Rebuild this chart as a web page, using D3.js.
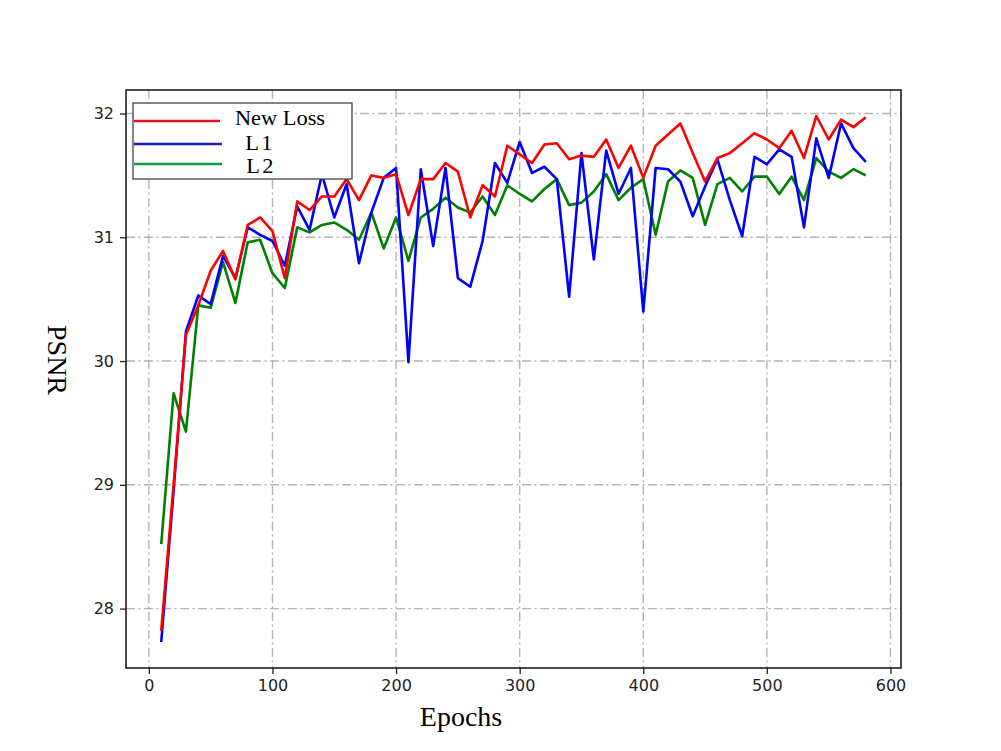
<!DOCTYPE html>
<html>
<head>
<meta charset="utf-8">
<script src="https://cdn.jsdelivr.net/npm/d3@7"></script>
<style>
  html, body { margin: 0; padding: 0; background: #ffffff; }
  svg { display: block; }
</style>
</head>
<body>
<div id="chart"></div>
<script>
// ---------- data ----------
const epochs = [10,20,30,40,50,60,70,80,90,100,110,120,130,140,150,160,170,180,190,200,
  210,220,230,240,250,260,270,280,290,300,310,320,330,340,350,360,370,380,390,400,
  410,420,430,440,450,460,470,480,490,500,510,520,530,540,550,560,570,580];

const newLoss = [27.82,29.00,30.21,30.45,30.73,30.89,30.66,31.10,31.16,31.05,
  30.67,31.29,31.22,31.33,31.33,31.47,31.30,31.50,31.48,31.51,
  31.18,31.47,31.47,31.60,31.53,31.16,31.42,31.33,31.74,31.67,
  31.60,31.75,31.76,31.63,31.66,31.65,31.79,31.56,31.74,31.48,
  31.74,31.83,31.92,31.68,31.45,31.64,31.68,31.76,31.84,31.79,
  31.72,31.86,31.64,31.98,31.79,31.95,31.89,31.97];

const l1 = [27.73,28.95,30.24,30.53,30.46,30.85,30.67,31.08,31.02,30.97,
  30.77,31.25,31.06,31.51,31.16,31.43,30.79,31.20,31.48,31.56,
  29.99,31.55,30.93,31.56,30.67,30.60,30.97,31.60,31.44,31.77,
  31.52,31.57,31.47,30.52,31.68,30.82,31.70,31.35,31.56,30.40,
  31.56,31.55,31.45,31.17,31.41,31.63,31.30,31.01,31.65,31.59,
  31.71,31.65,31.08,31.80,31.48,31.92,31.72,31.61];

const l2 = [28.52,29.74,29.43,30.45,30.43,30.80,30.47,30.96,30.98,30.71,
  30.59,31.08,31.04,31.10,31.12,31.06,30.98,31.20,30.91,31.16,
  30.81,31.16,31.23,31.32,31.24,31.20,31.33,31.18,31.42,31.35,
  31.29,31.39,31.47,31.26,31.28,31.37,31.51,31.30,31.40,31.47,
  31.02,31.45,31.54,31.48,31.10,31.43,31.48,31.37,31.49,31.49,
  31.35,31.49,31.30,31.64,31.53,31.48,31.55,31.50];

const seriesNames = ["New Loss", "L1", "L2"];
const xTicks = [0,100,200,300,400,500,600];
const yTicks = [28,29,30,31,32];

// ---------- layout ----------
const W = 1001, H = 751;
const plot = { left: 126, right: 901, top: 90, bottom: 668 };

const svg = d3.select("#chart").append("svg")
  .attr("width", W).attr("height", H);

const x = d3.scaleLinear().domain([-18.5, 608.5]).range([plot.left, plot.right]);
const y = d3.scaleLinear().domain([27.52, 32.19]).range([plot.bottom, plot.top]);

// grid
const gridStyle = g => g.attr("stroke", "#b4b4b4").attr("stroke-width", 1.4)
  .attr("stroke-dasharray", "9,3.5,2,3.5");
const grid = svg.append("g");
grid.selectAll("line.gx").data(xTicks).enter().append("line")
  .attr("x1", d => x(d)).attr("x2", d => x(d))
  .attr("y1", plot.top).attr("y2", plot.bottom).call(gridStyle);
grid.selectAll("line.gy").data(yTicks).enter().append("line")
  .attr("x1", plot.left).attr("x2", plot.right)
  .attr("y1", d => y(d)).attr("y2", d => y(d)).call(gridStyle);

// axes
const xAxis = d3.axisBottom(x).tickValues(xTicks).tickSize(6).tickPadding(6);
const yAxis = d3.axisLeft(y).tickValues(yTicks).tickSize(6).tickPadding(6).tickFormat(d3.format("d"));

const gx = svg.append("g").attr("transform", `translate(0,${plot.bottom})`).call(xAxis);
const gy = svg.append("g").attr("transform", `translate(${plot.left},0)`).call(yAxis);
[gx, gy].forEach(g => {
  g.select(".domain").remove();
  g.selectAll("line").attr("stroke", "#222").attr("stroke-width", 1.3);
  g.selectAll("text").attr("font-family", "DejaVu Sans, sans-serif")
    .attr("font-size", 16).attr("fill", "#222");
});

// lines
const colors = ["#ff0000", "#0000ff", "#008000"];
const data = [newLoss, l1, l2];
const line = d3.line().x((d, i) => x(epochs[i])).y(d => y(d));
svg.append("g").selectAll("path").data([l2, l1, newLoss]).enter().append("path")
  .attr("d", d => line(d))
  .attr("fill", "none")
  .attr("stroke", d => colors[data.indexOf(d)])
  .attr("stroke-width", 2.6)
  .attr("stroke-linejoin", "round");

// frame
svg.append("rect").attr("x", plot.left).attr("y", plot.top)
  .attr("width", plot.right - plot.left).attr("height", plot.bottom - plot.top)
  .attr("fill", "none").attr("stroke", "#111").attr("stroke-width", 1.5);

// legend
const legColors = ["#e8141b", "#1a1ad0", "#12a045"];
const leg = svg.append("g");
leg.append("rect").attr("x", 133).attr("y", 103).attr("width", 219).attr("height", 76)
  .attr("fill", "#fff").attr("stroke", "#444").attr("stroke-width", 1.3);
const legY = [121, 144, 164];
const legTextX = [280, 260, 261];
const legTextY = [125, 150, 173];
seriesNames.forEach((name, i) => {
  leg.append("line").attr("x1", 134).attr("x2", i === 0 ? 220 : 222)
    .attr("y1", legY[i]).attr("y2", legY[i])
    .attr("stroke", legColors[i]).attr("stroke-width", 2.6);
  leg.append("text")
    .attr("transform", `translate(${legTextX[i]},${legTextY[i]}) scale(1.12,1)`)
    .attr("text-anchor", "middle")
    .attr("font-family", "Liberation Serif, Times New Roman, serif")
    .attr("font-size", 20)
    .attr("letter-spacing", i === 0 ? 0 : 2)
    .attr("fill", "#000")
    .text(name);
});

// axis titles
svg.append("text").attr("x", 461).attr("y", 726).attr("text-anchor", "middle")
  .attr("font-family", "Liberation Serif, Times New Roman, serif")
  .attr("font-size", 28).attr("fill", "#000").text("Epochs");
svg.append("text").attr("transform", "translate(48,360) rotate(90)")
  .attr("text-anchor", "middle")
  .attr("font-family", "Liberation Serif, Times New Roman, serif")
  .attr("font-size", 28).attr("fill", "#000").text("PSNR");
</script>
</body>
</html>
